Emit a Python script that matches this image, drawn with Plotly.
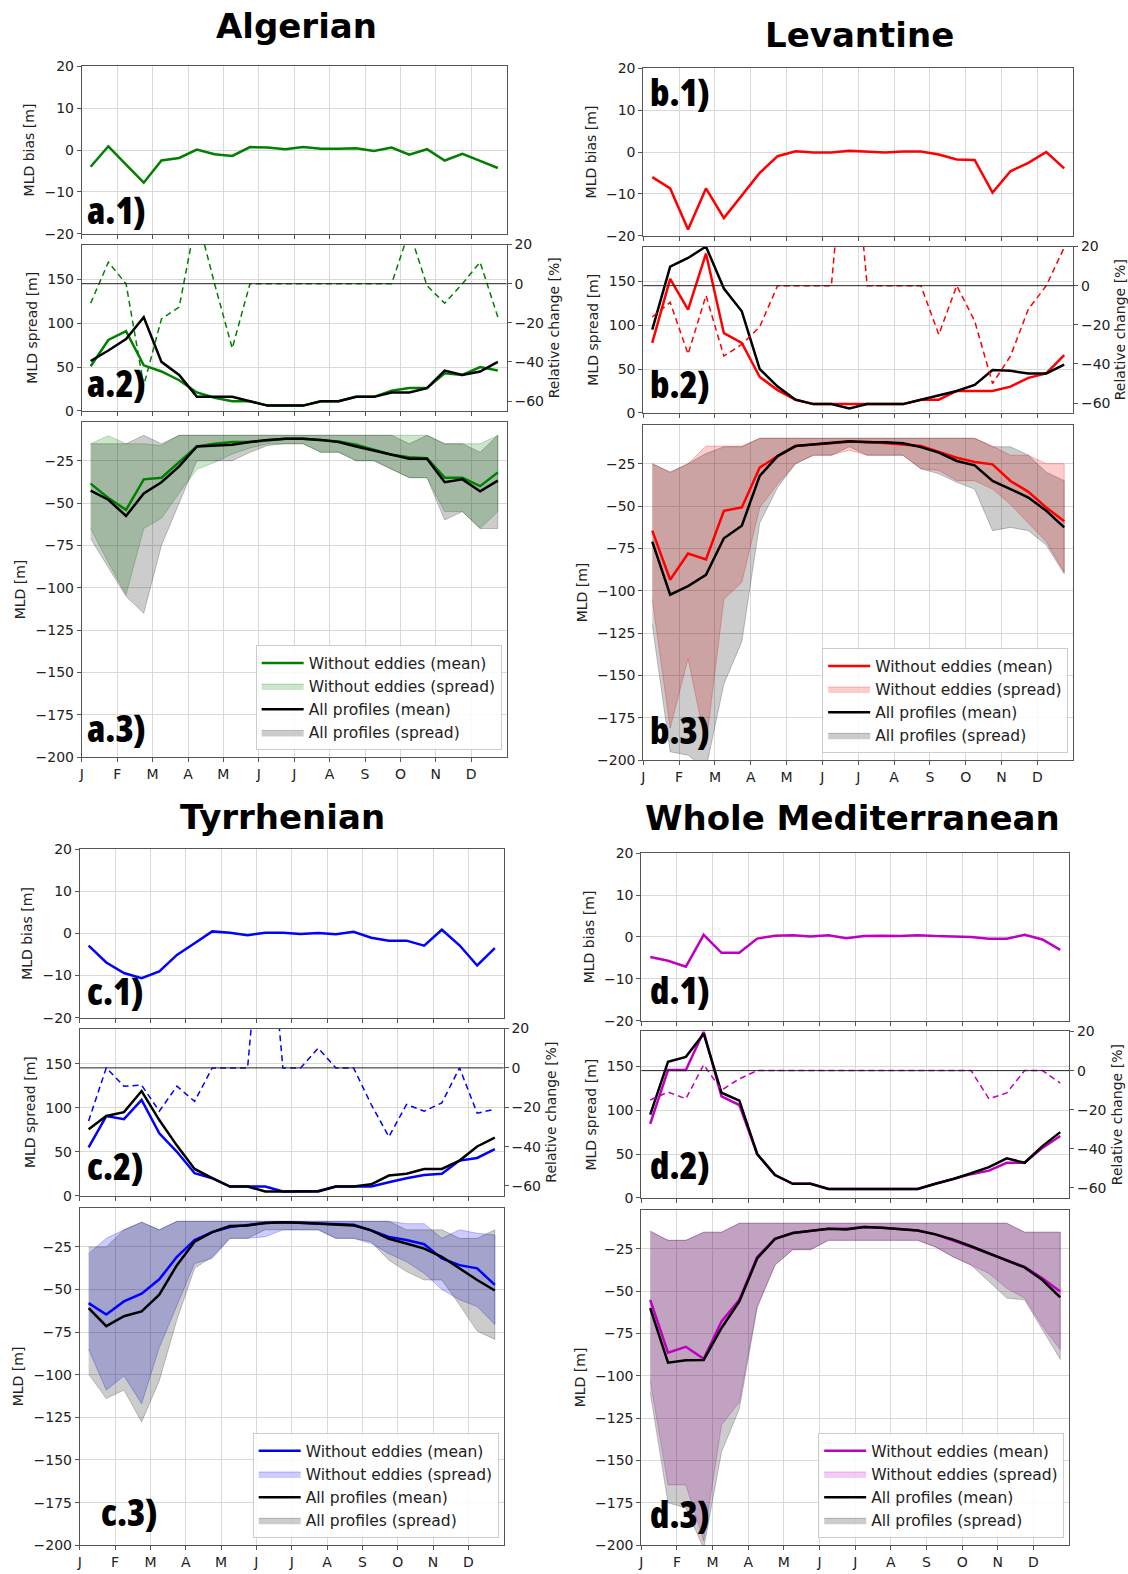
import plotly.graph_objects as go

W, H = 1128, 1574

# ---- shared axes --------------------------------------------------------
MONTHS = ["J", "F", "M", "A", "M", "J", "J", "A", "S", "O", "N", "D"]
MONTH_TICKS = list(range(12))
# half-month bins (centre of each half month, in month units)
HALF_MONTH = [0.25, 0.75, 1.25, 1.75, 2.25, 2.75, 3.25, 3.75, 4.25, 4.75, 5.25, 5.75,
              6.25, 6.75, 7.25, 7.75, 8.25, 8.75, 9.25, 9.75, 10.25, 10.75, 11.25, 11.75]

# ---- Algerian -----------------------------------------------------------
alg_bias = [-4.0, 0.9, -3.5, -7.8, -2.5, -1.9, 0.1, -1.0, -1.4, 0.7, 0.6, 0.2,
            0.7, 0.3, 0.3, 0.4, -0.2, 0.6, -1.1, 0.2, -2.5, -0.9, -2.6, -4.3]
alg_spread_ne = [51, 81, 91, 52, 45, 35, 21, 15, 11, 11, 6, 6,
                 6, 11, 11, 16, 16, 23, 26, 26, 43, 41, 50, 46]
alg_spread_all = [57, 69, 82, 107, 56, 41, 16, 16, 16, 11, 6, 6,
                  6, 11, 11, 16, 16, 21, 21, 26, 46, 41, 45, 56]
alg_rel = [-10, 11, 0, -52, -18, -12, 35, 0, -33, 0, 0, 0,
           0, 0, 0, 0, 0, 0, 27, -1, -10, 0, 11, -17]
alg_mean_ne = [-38.5, -47, -54, -36, -35, -26, -16.6, -15, -14, -14, -13, -12,
               -12, -12.7, -13.7, -15.6, -18.5, -21.5, -23, -23.5, -35, -35, -40, -32]
alg_mean_all = [-42.6, -48, -57.6, -44.3, -37.7, -28.3, -16.6, -16, -15.6, -14, -12.7, -12.1,
                -12.1, -12.7, -14, -16.6, -19, -21.5, -23.8, -23.8, -37.7, -36, -43, -36.7]
alg_up_ne = [-15, -10.3, -15, -15, -16, -10, -10, -10, -10, -10, -10, -10,
             -10, -10, -10, -10, -10, -10, -10, -10, -15, -15, -15, -10]
alg_lo_ne = [-65, -85, -104, -65, -59, -44, -30, -26, -21, -17.5, -15, -15,
             -15, -20, -20, -25, -25, -30, -35, -35, -55, -55, -65, -55]
alg_up_all = [-15, -15, -15, -10, -15, -10, -10, -10, -10, -10, -10, -10,
              -10, -10, -10, -10, -10, -10, -15, -10, -15, -15, -20, -10]
alg_lo_all = [-71, -88, -105, -115, -75, -50, -25, -25, -25, -20, -16, -15,
              -15, -20, -20, -25, -25, -30, -35, -35, -60, -55, -65, -65]

# ---- Levantine ----------------------------------------------------------
lev_bias = [-6, -8.7, -18.5, -8.7, -15.8, -10.4, -5, -1, 0.2, -0.1, -0.1, 0.3,
            0.1, -0.1, 0.1, 0.1, -0.6, -1.8, -1.9, -9.7, -4.6, -2.6, 0, -3.9]
lev_spread_ne = [80, 153, 118, 182, 91, 80, 41, 26, 15, 10, 10, 10,
                 10, 10, 10, 15, 15, 25, 25, 25, 30, 40, 45, 66]
lev_spread_all = [95, 167, 177, 190, 142, 116, 50, 30, 15, 10, 10, 5,
                  10, 10, 10, 15, 20, 25, 32, 49, 48, 45, 45, 55]
lev_rel = [-16, -8.5, -35, -5, -36, -30, -21, 0, 0, 0, 0, 100,
           0, 0, 0, 0, -25, 0, -18, -50, -36, -12, 0, 19.5]
lev_mean_ne = [-64.5, -93.5, -78, -81.5, -52.8, -50.8, -27.3, -20.5, -14.6, -13.6, -13, -12,
               -12, -12.7, -13.6, -14.6, -18, -21.5, -24, -25.4, -35.2, -41.6, -50.8, -59]
lev_mean_all = [-71, -102.3, -97.2, -90.6, -69, -61.6, -32.2, -20.5, -14.6, -13.6, -12.3, -11.7,
                -12.3, -12.3, -13, -15.2, -18.5, -23.4, -26, -35.2, -40, -45, -52.8, -62.6]
lev_up_ne = [-25, -30, -25, -14.6, -14.6, -14.6, -10, -10, -10, -10, -10, -10,
             -10, -10, -10, -10, -10, -10, -10, -14.6, -20, -20, -25, -25]
lev_lo_ne = [-105, -181, -140, -191, -105, -95, -51, -37, -25, -20, -20, -17,
             -20, -20, -20, -28, -29, -35, -35, -40, -49, -60, -71, -89]
lev_up_all = [-25, -30, -25, -19, -15, -15, -10, -10, -10, -10, -10, -10,
              -10, -10, -10, -10, -10, -10, -10, -15, -15, -20, -30, -35]
lev_lo_all = [-120, -195, -197, -205, -155, -130, -60, -39, -25, -20, -20, -15,
              -20, -20, -20, -28, -31, -36, -40, -64.5, -62.6, -64.5, -73, -90]

# ---- Tyrrhenian ---------------------------------------------------------
tyr_bias = [-2.9, -6.9, -9.4, -10.6, -9, -5.1, -2.3, 0.5, 0.2, -0.4, 0.2, 0.2,
            -0.1, 0.1, -0.2, 0.4, -1, -1.7, -1.7, -2.9, 0.9, -2.8, -7.6, -3.5]
tyr_spread_ne = [55, 90.6, 87, 109, 71, 50, 25.6, 20, 10.5, 10.5, 10.5, 5,
                 5, 5.5, 10.5, 10.5, 10.5, 15.4, 20, 23.7, 25, 40, 43, 53]
tyr_spread_all = [75.6, 90.6, 95, 119, 86, 57, 30.5, 20, 10.5, 10.5, 5, 5,
                  5, 5, 10.5, 10.5, 13, 23, 25, 30.5, 30.5, 40, 56, 66]
tyr_rel = [-27, 0, -9.3, -8.8, -22, -9.3, -17, 0, 0, 0, 100, 0,
           0, 10, 0, 0, -18.6, -35, -18.6, -22, -17.8, 0, -23, -21]
tyr_mean_ne = [-58, -64.7, -57, -52.5, -44, -30.8, -21, -16.3, -13.4, -12.4, -11, -10.5,
               -10.9, -11.4, -11.4, -12, -15.3, -19.2, -21, -23.4, -31.8, -35.7, -37.6, -47.3]
tyr_mean_all = [-60.9, -71.5, -65.7, -62.8, -53, -35.7, -22, -16.3, -12.8, -12.4, -11, -10.5,
                -10.9, -11.4, -11.8, -12.4, -15.3, -20.2, -23, -26, -30.8, -37.6, -44.4, -50.6]
tyr_up_ne = [-29, -20, -15, -10.5, -15, -10, -10, -10, -10, -10, -10, -10,
             -10, -10, -10, -10, -10, -10, -11.4, -11.4, -20, -15, -17, -18]
tyr_lo_ne = [-85, -109, -100.6, -117, -84, -59, -34.7, -31.8, -20, -20, -19, -15,
             -15, -15, -20, -20, -23, -29, -33.7, -40.5, -50, -56, -60, -70.5]
tyr_up_all = [-25, -25, -15, -10.5, -15, -10, -10, -10, -10, -10, -10, -10,
              -10, -10, -10, -10, -10, -10, -15, -15, -15, -20, -20, -15]
tyr_lo_all = [-99.6, -114, -109, -127.7, -103.5, -67.6, -37.6, -30.8, -20, -20, -15, -15,
              -15, -15, -20, -20, -22, -32.8, -39.5, -44.4, -44.4, -59, -74.4, -79.3]

# ---- Whole Mediterranean ------------------------------------------------
med_bias = [-4.8, -5.7, -7.1, 0.5, -3.8, -3.8, -0.4, 0.3, 0.4, 0.1, 0.4, -0.3,
            0.2, 0.3, 0.2, 0.4, 0.2, 0.1, 0, -0.4, -0.4, 0.5, -0.6, -3.1]
med_spread_ne = [84.5, 146, 146, 190, 116, 106, 50, 26, 16, 16, 10, 10,
                 10, 10, 10, 10, 16, 21.5, 27, 31, 40, 40, 57, 70.6]
med_spread_all = [95, 155.5, 161, 187.5, 120, 111, 50, 26, 16, 16, 10, 10,
                  10, 10, 10, 10, 16, 21.5, 28, 35, 45, 40, 59, 75]
med_rel = [-15, -11, -14.4, 3, -10, -4.2, 0, 0, 0, 0, 0, 0,
           0, 0, 0, 0, 0, 0, 0, -14.4, -11.4, 0, 0, -6.4]
med_mean_ne = [-55.2, -86.4, -82.9, -90, -67.9, -55.2, -29.9, -19.2, -15.8, -14.7, -13.3, -13.3,
               -12.3, -12.7, -13.3, -14.3, -16.6, -20.1, -24, -27.9, -31.8, -35.7, -42.5, -50.3]
med_mean_all = [-60.1, -92.3, -90.9, -90.7, -71.8, -56.2, -30.8, -19.2, -15.8, -14.7, -13.3, -13.7,
                -12.3, -12.7, -13.3, -14.3, -16.6, -19.7, -23.6, -27.9, -31.8, -36.1, -43.5, -53.7]
med_up_ne = [-14.7, -20.1, -20.1, -15.3, -15.3, -10, -10, -10, -10, -10, -10, -10,
             -10, -10, -10, -10, -10, -10, -10, -10, -10, -15.3, -15.3, -15.3]
med_lo_ne = [-103, -164.4, -164.4, -197.5, -129, -115.6, -59, -34.7, -25.6, -25.6, -20.1, -20.1,
             -20.1, -20.1, -20.1, -20.1, -24, -29.9, -34.7, -39.6, -48.4, -54.2, -70.8, -84.5]
med_up_all = [-14.7, -20.1, -20.1, -15.3, -15.3, -10, -10, -10, -10, -10, -10, -10,
              -10, -10, -10, -10, -10, -10, -10, -10, -10, -15.3, -15.3, -15.3]
med_lo_all = [-110, -175, -178, -202, -145, -119.5, -60, -34.7, -25.6, -25.6, -20.1, -20.1,
              -20.1, -20.1, -20.1, -20.1, -24, -29.9, -34.7, -44.5, -54.2, -55.2, -72.8, -90.3]

LEGEND_NAMES = ["Without eddies (mean)", "Without eddies (spread)",
                "All profiles (mean)", "All profiles (spread)"]

# ---- panel layout (pixel boxes) -----------------------------------------
panels = [
    dict(title="Algerian", tag="a", rgb=(0, 128, 0),
         data=(alg_bias, alg_spread_ne, alg_spread_all, alg_rel, alg_mean_ne, alg_mean_all,
               alg_up_ne, alg_lo_ne, alg_up_all, alg_lo_all),
         x0=79, x1=505, rows=[(59, 228), (239, 407), (418, 757)], title_xy=(294, 18),
         label_xy=[(82, 204), (82, 378), (82, 727)]),
    dict(title="Levantine", tag="b", rgb=(255, 0, 0),
         data=(lev_bias, lev_spread_ne, lev_spread_all, lev_rel, lev_mean_ne, lev_mean_all,
               lev_up_ne, lev_lo_ne, lev_up_all, lev_lo_all),
         x0=642, x1=1073, rows=[(61, 230), (241, 409), (421, 760)], title_xy=(859, 27),
         label_xy=[(647, 84), (647, 379), (647, 729)]),
    dict(title="Tyrrhenian", tag="c", rgb=(0, 0, 255),
         data=(tyr_bias, tyr_spread_ne, tyr_spread_all, tyr_rel, tyr_mean_ne, tyr_mean_all,
               tyr_up_ne, tyr_lo_ne, tyr_up_all, tyr_lo_all),
         x0=77, x1=502, rows=[(850, 1020), (1031, 1200), (1212, 1553)], title_xy=(280, 817),
         label_xy=[(82, 993), (82, 1169), (96, 1519)]),
    dict(title="Whole Mediterranean", tag="d", rgb=(191, 0, 191),
         data=(med_bias, med_spread_ne, med_spread_all, med_rel, med_mean_ne, med_mean_all,
               med_up_ne, med_lo_ne, med_up_all, med_lo_all),
         x0=640, x1=1069, rows=[(854, 1023), (1034, 1202), (1214, 1553)], title_xy=(852, 818),
         label_xy=[(647, 992), (647, 1168), (647, 1521)]),
]

TICK_FONT = dict(family="DejaVu Sans", size=14, color="#222")
TITLE_FONT = dict(family="DejaVu Sans", size=14, color="#222")
TAG_FONT = dict(family="Open Sans", size=37, color="black", weight=800)
TAG_STYLE = "font-stretch:semi-condensed;font-weight:800"
GRID = "#d9d9d9"
SPINE = "#555"


def rgba(rgb, a):
    return "rgba(%d,%d,%d,%.2f)" % (rgb[0], rgb[1], rgb[2], a)


fig = go.Figure()
layout = dict(width=W, height=H, margin=dict(l=0, r=0, t=0, b=0),
              paper_bgcolor="white", plot_bgcolor="white", showlegend=True,
              annotations=[], shapes=[])

for p, P in enumerate(panels):
    (bias, spr_ne, spr_all, rel, mean_ne, mean_all,
     up_ne, lo_ne, up_all, lo_all) = P["data"]
    col = rgba(P["rgb"], 1)
    leg = "legend" if p == 0 else "legend%d" % (p + 1)
    ids = [3 * p + r + 1 for r in range(3)]
    sec = 13 + p

    for r, idx in enumerate(ids):
        top, bot = P["rows"][r]
        xa = dict(domain=[P["x0"] / W, P["x1"] / W], anchor="y%d" % idx,
                  range=[0, 12], tickvals=MONTH_TICKS, ticktext=MONTHS,
                  showticklabels=(r == 2), tickfont=TICK_FONT,
                  showgrid=True, gridcolor=GRID, gridwidth=1, zeroline=False,
                  showline=True, mirror=True, linecolor=SPINE, linewidth=1,
                  ticks="outside", ticklen=4, tickcolor=SPINE)
        ya = dict(domain=[1 - bot / H, 1 - top / H], anchor="x%d" % idx,
                  tickfont=TICK_FONT, showgrid=True, gridcolor=GRID, gridwidth=1,
                  zeroline=False, showline=True, mirror=True, linecolor=SPINE,
                  linewidth=1, ticks="outside", ticklen=4, tickcolor=SPINE,
                  title=dict(font=TITLE_FONT, standoff=6))
        if r == 0:
            ya.update(range=[-20, 20], tickvals=[-20, -10, 0, 10, 20])
            ya["title"]["text"] = "MLD bias [m]"
        elif r == 1:
            ya.update(range=[0, 190], tickvals=[0, 50, 100, 150])
            ya["title"]["text"] = "MLD spread [m]"
        else:
            ya.update(range=[-200, -2], tickvals=[-200, -175, -150, -125, -100, -75, -50, -25])
            ya["title"]["text"] = "MLD [m]"
        layout["xaxis%d" % idx] = xa
        layout["yaxis%d" % idx] = ya

    # secondary axis for the relative change of the spread
    layout["yaxis%d" % sec] = dict(
        overlaying="y%d" % ids[1], anchor="x%d" % ids[1], side="right",
        range=[-65, 20], tickvals=[-60, -40, -20, 0, 20], tickfont=TICK_FONT,
        showgrid=False, zeroline=False, ticks="outside", ticklen=4, tickcolor=SPINE,
        title=dict(text="Relative change [%]", font=TITLE_FONT, standoff=6))

    # row 1: bias
    fig.add_trace(go.Scatter(x=HALF_MONTH, y=bias, mode="lines", showlegend=False,
                             line=dict(color=col, width=2.5),
                             xaxis="x%d" % ids[0], yaxis="y%d" % ids[0]))
    # row 2: spread and relative change
    fig.add_trace(go.Scatter(x=HALF_MONTH, y=spr_ne, mode="lines", showlegend=False,
                             line=dict(color=col, width=2.5),
                             xaxis="x%d" % ids[1], yaxis="y%d" % ids[1]))
    fig.add_trace(go.Scatter(x=HALF_MONTH, y=spr_all, mode="lines", showlegend=False,
                             line=dict(color="black", width=2.5),
                             xaxis="x%d" % ids[1], yaxis="y%d" % ids[1]))
    fig.add_trace(go.Scatter(x=HALF_MONTH, y=rel, mode="lines", showlegend=False,
                             line=dict(color=col, width=1.5, dash="6px,4px"),
                             xaxis="x%d" % ids[1], yaxis="y%d" % sec))
    layout["shapes"].append(dict(type="line", xref="x%d domain" % ids[1], x0=0, x1=1,
                                 yref="y%d" % sec, y0=0, y1=0,
                                 line=dict(color="#222", width=1)))

    # row 3: mean and spread envelopes
    xs_poly = HALF_MONTH + HALF_MONTH[::-1]
    fig.add_trace(go.Scatter(x=xs_poly, y=up_ne + lo_ne[::-1], mode="lines", fill="toself",
                             fillcolor=rgba(P["rgb"], 0.2),
                             line=dict(color=rgba(P["rgb"], 0.25), width=1),
                             name=LEGEND_NAMES[1], legend=leg, legendrank=2,
                             xaxis="x%d" % ids[2], yaxis="y%d" % ids[2]))
    fig.add_trace(go.Scatter(x=xs_poly, y=up_all + lo_all[::-1], mode="lines", fill="toself",
                             fillcolor="rgba(0,0,0,0.2)",
                             line=dict(color="rgba(0,0,0,0.22)", width=1),
                             name=LEGEND_NAMES[3], legend=leg, legendrank=4,
                             xaxis="x%d" % ids[2], yaxis="y%d" % ids[2]))
    fig.add_trace(go.Scatter(x=HALF_MONTH, y=mean_ne, mode="lines",
                             line=dict(color=col, width=2.5),
                             name=LEGEND_NAMES[0], legend=leg, legendrank=1,
                             xaxis="x%d" % ids[2], yaxis="y%d" % ids[2]))
    fig.add_trace(go.Scatter(x=HALF_MONTH, y=mean_all, mode="lines",
                             line=dict(color="black", width=2.5),
                             name=LEGEND_NAMES[2], legend=leg, legendrank=3,
                             xaxis="x%d" % ids[2], yaxis="y%d" % ids[2]))

    bot3 = P["rows"][2][1]
    layout[leg] = dict(x=(P["x1"] - 5) / W, y=1 - (bot3 - 7) / H,
                       xanchor="right", yanchor="bottom",
                       bgcolor="rgba(255,255,255,0.85)", bordercolor="#cccccc",
                       borderwidth=1, font=dict(family="DejaVu Sans", size=15.5, color="#222"),
                       tracegroupgap=0, itemwidth=42)

    # panel title
    tx, ty = P["title_xy"]
    layout["annotations"].append(dict(
        text=P["title"], x=tx / W, y=1 - ty / H, xref="paper", yref="paper",
        xanchor="center", yanchor="middle", showarrow=False,
        font=dict(family="DejaVu Sans", size=34, color="black", weight="bold")))
    # sub-panel tags
    for r in range(3):
        lx, ly = P["label_xy"][r]
        layout["annotations"].append(dict(
            text="<span style=\"%s\">%s.%d)</span>" % (TAG_STYLE, P["tag"], r + 1),
            x=lx / W, y=1 - ly / H,
            xref="paper", yref="paper", xanchor="left", yanchor="middle",
            showarrow=False, font=TAG_FONT))

fig.update_layout(**layout)
fig.write_html("out.html")
